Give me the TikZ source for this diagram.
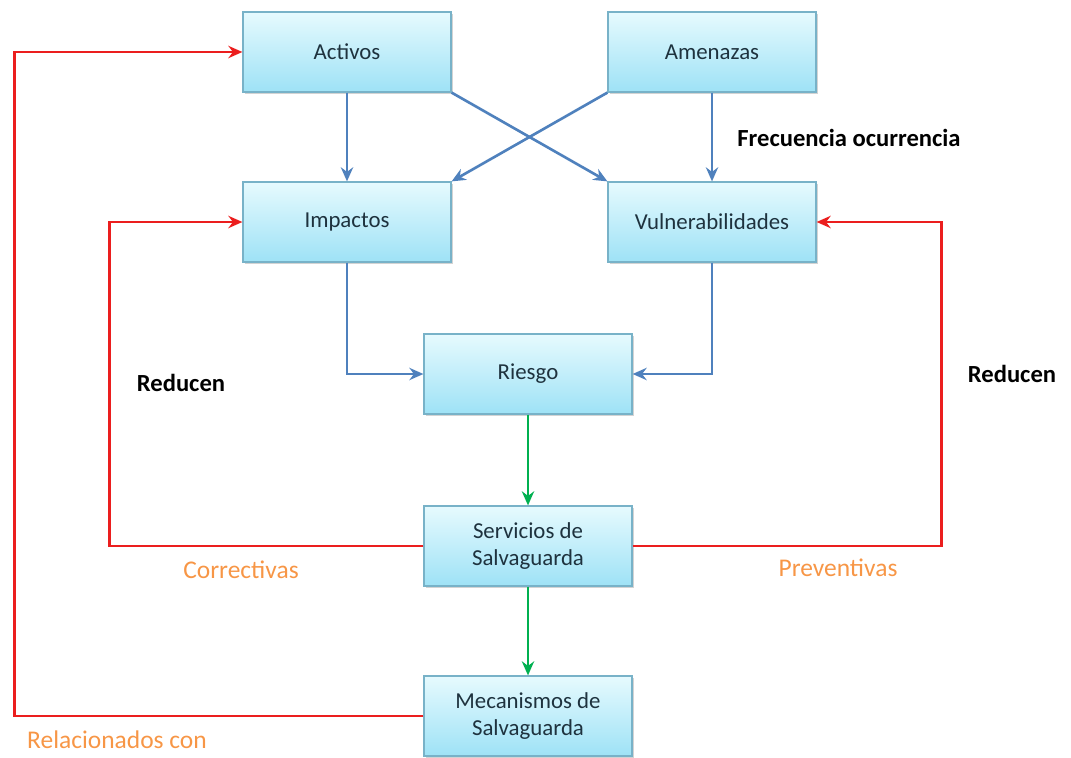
\documentclass[tikz,border=0pt]{standalone}
\usepackage{fontspec}
\setmainfont{Carlito}
\usetikzlibrary{arrows.meta,shadows}
\definecolor{cajaarriba}{RGB}{230,250,254}
\definecolor{cajaabajo}{RGB}{158,226,246}
\definecolor{cajaborde}{RGB}{120,178,200}
\definecolor{cajatexto}{RGB}{30,50,62}
\definecolor{flechaazul}{RGB}{79,129,189}
\definecolor{flechaverde}{RGB}{0,176,80}
\definecolor{flecharoja}{RGB}{235,30,30}
\definecolor{naranja}{RGB}{247,150,70}

\begin{document}
\begin{tikzpicture}[x=0.02cm,y=-0.02cm,>={Stealth[length=8pt,width=7pt]},
  bloque/.style={draw=cajaborde,line width=0.7pt,top color=cajaarriba,bottom color=cajaabajo,
    minimum width=4.16cm,minimum height=1.6cm,text=cajatexto,align=center,
    font=\fontsize{13}{15.5}\selectfont,
    drop shadow={shadow xshift=1.2pt,shadow yshift=-1.2pt,opacity=0.35}},
  azul/.style={->,draw=flechaazul,line width=1.5pt},
  verde/.style={->,draw=flechaverde,line width=1.5pt},
  roja/.style={->,draw=flecharoja,line width=1.5pt},
  negrita/.style={font=\fontsize{14}{16}\selectfont\bfseries},
  tenue/.style={text=naranja,font=\fontsize{14.5}{16}\selectfont}]
  \useasboundingbox (0,0) rectangle (1071,757);
  % cajas
  \node[bloque] (act) at (347,52) {Activos};
  \node[bloque] (ame) at (712,52) {Amenazas};
  \node[bloque] (imp) at (347,222) {Impactos};
  \node[bloque] (vul) at (712,222) {Vulnerabilidades};
  \node[bloque] (rie) at (528,374) {Riesgo};
  \node[bloque] (ser) at (528,546) {Servicios de\\Salvaguarda};
  \node[bloque] (mec) at (528,716) {Mecanismos de\\Salvaguarda};
  % flechas azules
  \draw[azul] (act.south) -- (imp.north);
  \draw[azul] (ame.south) -- (vul.north);
  \draw[azul] (act.south east) -- (vul.north west);
  \draw[azul] (ame.south west) -- (imp.north east);
  \draw[azul] (imp.south) |- (rie.west);
  \draw[azul] (vul.south) |- (rie.east);
  % flechas verdes
  \draw[verde] (rie.south) -- (ser.north);
  \draw[verde] (ser.south) -- (mec.north);
  % flechas rojas
  \draw[roja] (ser.west) -| ([xshift=-2.66cm]imp.west) -- (imp.west);
  \draw[roja] (ser.east) -| ([xshift=2.5cm]vul.east) -- (vul.east);
  \draw[roja] (mec.west) -| ([xshift=-4.56cm]act.west) -- (act.west);
  % textos
  \node[negrita] (frec) at (849,138) {Frecuencia ocurrencia};
  \node[negrita] (redi) at (181,383) {Reducen};
  \node[negrita] (redd) at (1012,374) {Reducen};
  \node[tenue] (corr) at (241,570) {Correctivas};
  \node[tenue] (prev) at (838,568) {Preventivas};
  \node[tenue] (rela) at (117,740) {Relacionados con};
\end{tikzpicture}
\end{document}
